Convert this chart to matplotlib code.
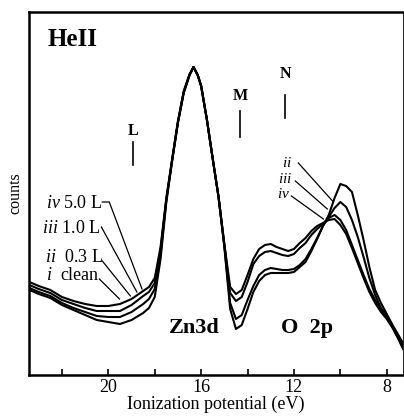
import matplotlib
matplotlib.use("Agg")
import matplotlib.pyplot as plt
from matplotlib.ticker import MultipleLocator, NullFormatter

plt.rcParams['font.family'] = ['Liberation Serif', 'DejaVu Serif']
plt.rcParams['mathtext.fontset'] = 'custom'
plt.rcParams['mathtext.it'] = 'Liberation Serif:italic'
plt.rcParams['mathtext.rm'] = 'Liberation Serif'

# binding energy grid (eV) and photoemission counts (arb. units)
energy = [23.4, 23.0, 22.5, 22.0, 21.5, 21.0, 20.5, 20.0, 19.5, 19.0, 18.5, 18.25,
          18.0, 17.75, 17.5, 17.25, 17.0, 16.75, 16.5, 16.33, 16.15, 16.0, 15.75,
          15.5, 15.25, 15.0, 14.75, 14.5, 14.25, 14.0, 13.75, 13.5, 13.25, 13.0,
          12.75, 12.5, 12.25, 12.0, 11.75, 11.5, 11.25, 11.0, 10.75, 10.5, 10.25,
          10.0, 9.75, 9.5, 9.25, 9.0, 8.75, 8.5, 8.25, 8.0, 7.75, 7.5, 7.3]

clean = [85, 81, 77, 70, 65, 60, 55, 53, 51, 55, 62, 67,
         78, 116, 173, 214, 252, 282, 300, 308, 300, 289, 255,
         216, 178, 128, 66, 46, 50, 66, 83, 94, 100, 102,
         102, 102, 102, 103, 108, 113, 124, 136, 149, 160, 177,
         191, 189, 183, 160, 135, 108, 85, 72, 61, 50, 40, 32]
dose_03 = [87, 83, 79, 72, 67, 63, 59, 58, 58, 63, 71, 76,
           86, 121, 175, 215, 253, 283, 300, 308, 300, 289, 255,
           216, 178, 129, 72, 56, 60, 75, 89, 100, 105, 107,
           106, 105, 105, 106, 110, 116, 126, 137, 149, 158, 167,
           173, 168, 155, 138, 118, 97, 80, 67, 59, 49, 38, 29]
dose_10 = [90, 86, 82, 75, 71, 67, 64, 64, 64, 70, 79, 83,
           92, 125, 176, 215, 253, 283, 300, 308, 300, 289, 255,
           216, 178, 130, 82, 74, 78, 93, 111, 119, 123, 124,
           122, 120, 119, 121, 127, 132, 140, 146, 151, 157, 160,
           155, 145, 130, 115, 100, 86, 75, 66, 58, 48, 37, 27]
dose_50 = [93, 89, 85, 78, 74, 71, 69, 69, 71, 76, 84, 88,
           97, 128, 177, 216, 254, 284, 301, 308, 300, 289, 255,
           216, 178, 131, 88, 81, 85, 100, 116, 126, 130, 131,
           128, 126, 124, 126, 132, 137, 144, 149, 152, 155, 156,
           150, 141, 127, 112, 97, 83, 72, 63, 56, 47, 36, 26]

series = [clean, dose_03, dose_10, dose_50]
left_labels = [r"$\mathit{i}$  clean", r"$\mathit{ii}$  0.3 L",
               r"$\mathit{iii}$ 1.0 L", r"$\mathit{iv}$ 5.0 L"]
right_labels = [r"$\mathit{ii}$", r"$\mathit{iii}$", r"$\mathit{iv}$"]
marker_names = ["L", "M", "N"]
marker_energy = [18.92, 14.32, 12.38]

fig = plt.figure(figsize=(4.04, 4.19), dpi=100)
ax = fig.add_axes([29/404, 44/419, 374/404, 363/419])

for s in series:
    ax.plot(energy, s, color="black", lw=1.5)

ax.set_xlim(23.42, 7.3)
ax.set_ylim(0, 363)
ax.xaxis.set_major_locator(MultipleLocator(4))
ax.xaxis.set_minor_locator(MultipleLocator(2))
ax.xaxis.set_minor_formatter(NullFormatter())
ax.tick_params(axis="x", which="both", direction="in", length=4, width=1.2,
               labelsize=13, pad=3)
ax.set_yticks([])
for side in ["left", "bottom", "top"]:
    ax.spines[side].set_linewidth(1.8)
ax.spines["right"].set_linewidth(0.6)
ax.set_xlabel("Ionization potential (eV)", fontsize=13, labelpad=0)
ax.set_ylabel("counts", fontsize=11.5, labelpad=4)

ax.text(22.62, 335, "HeII", fontsize=18, fontweight="bold", ha="left", va="center")
ax.text(16.3, 47, "Zn3d", fontsize=16, fontweight="bold", ha="center", va="center")
ax.text(11.44, 47, "O  2p", fontsize=16, fontweight="bold", ha="center", va="center")

# L, M, N markers
text_y = [244, 279, 301]
bar_y = [(210, 233), (238, 264), (257, 280)]
for name, e, ty, (b0, b1) in zip(marker_names, marker_energy, text_y, bar_y):
    ax.text(e, ty, name, fontsize=11.5, fontweight="bold", ha="center", va="center")
    ax.plot([e, e], [b0, b1], color="black", lw=1.2)

# left labels with leader lines
lab_pos = [(20.36, 99), (20.26, 117), (20.36, 147), (20.26, 172)]
lead = [[(20.39, 96), (19.52, 76)],
        [(20.26, 114), (19.05, 79)],
        [(20.30, 148), (18.77, 83)],
        [(20.26, 173), (19.96, 173), (18.55, 86)]]
for txt, (x, y), pts in zip(left_labels, lab_pos, lead):
    ax.text(x, y, txt, fontsize=13, ha="right", va="center")
    ax.plot([p[0] for p in pts], [p[1] for p in pts], color="black", lw=0.9)

# right labels with leader lines
rlab_pos = [(12.07, 212), (12.07, 196), (12.16, 181)]
rlead = [[(11.81, 212), (10.30, 173)],
         [(11.94, 194), (10.56, 166)],
         [(12.11, 179), (10.73, 156)]]
for txt, (x, y), pts in zip(right_labels, rlab_pos, rlead):
    ax.text(x, y, txt, fontsize=11, ha="right", va="center")
    ax.plot([p[0] for p in pts], [p[1] for p in pts], color="black", lw=0.9)

plt.savefig("out.png", dpi=100)
